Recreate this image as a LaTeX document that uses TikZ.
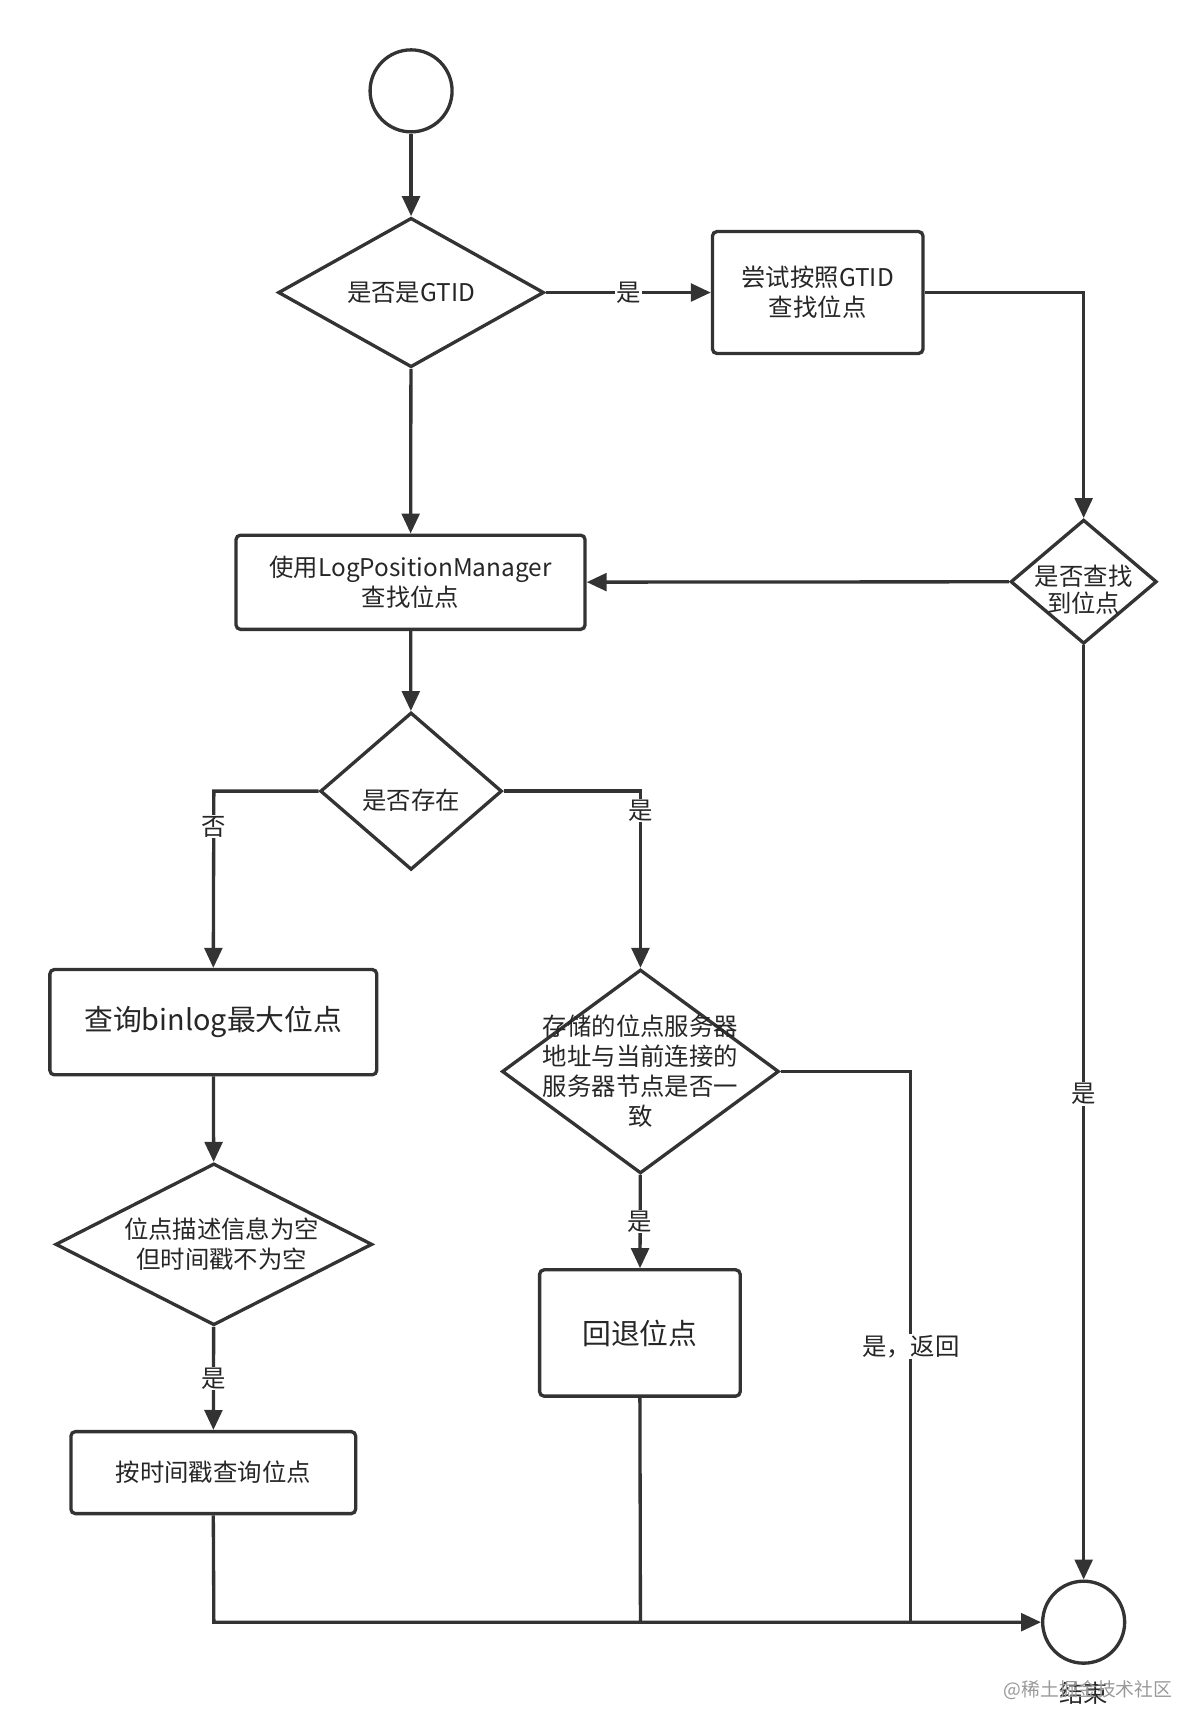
\documentclass[tikz,border=0pt]{standalone}
\usepackage{fontspec}
\setmainfont{Noto Sans CJK SC}
\usetikzlibrary{shapes.geometric,arrows.meta}
\begin{document}
\begin{tikzpicture}[x=1pt,y=-1pt,
  every node/.style={font=\fontsize{22}{27}\selectfont, text=black!85, align=center},
  ln/.style={line width=3pt, draw=black!80},
  arr/.style={ln,-{Triangle[length=18pt,width=16pt]}},
  box/.style={ln, rounded corners=4pt, inner sep=0pt, align=center},
  dia/.style={ln, diamond, inner sep=0pt, align=center},
  lab/.style={fill=white, inner sep=1pt}]
\useasboundingbox (0,0) rectangle (1080,1555);
\node[ln,circle,minimum size=74pt] (s) at (371,82) {};
\node[dia,minimum width=240pt,minimum height=112pt] (d1) at (371,264) {是否是GTID};
\node[box,minimum width=190pt,minimum height=110pt] (b1) at (738,264) {尝试按照GTID\\查找位点};
\node[dia,minimum width=132pt,minimum height=112pt] (d2) at (978,525) {};
\node (t2) at (978,532) {是否查找\\[-3pt]到位点};
\node[box,minimum width=315pt,minimum height=85pt] (b2) at (370.5,525.5) {使用LogPositionManager\\查找位点};
\node[dia,minimum width=164pt,minimum height=142pt] (d3) at (371,714) {};
\node (t3) at (371,722) {是否存在};
\node[box,minimum width=295pt,minimum height=95pt,font=\fontsize{26}{30}\selectfont] (b3) at (192.5,922.5) {查询binlog最大位点};
\node[dia,minimum width=286pt,minimum height=146pt] (d4) at (193,1123) {};
\node (t4) at (200,1123) {位点描述信息为空\\但时间戳不为空};
\node[box,minimum width=257pt,minimum height=74pt] (b4) at (192.5,1329) {按时间戳查询位点};
\node[dia,minimum width=250pt,minimum height=184pt] (d5) at (578,967) {};
\node (t5) at (578,967) {存储的位点服务器\\地址与当前连接的\\服务器节点是否一\\致};
\node[box,minimum width=181pt,minimum height=114pt,font=\fontsize{26}{30}\selectfont] (b5) at (577.5,1203) {回退位点};
\node[ln,circle,minimum size=74pt] (e) at (978,1464) {};
\node (te) at (978,1528) {结束};
\node[font=\fontsize{17}{20}\selectfont,text=black!40] (wm) at (982,1525) {@稀土掘金技术社区};
\coordinate (c1) at (978,264);
\coordinate (c2) at (193,714);
\coordinate (c3) at (578,714);
\coordinate (c4) at (822,967);
\coordinate (c5) at (822,1464);
\coordinate (c6) at (193,1464);
\coordinate (c7) at (578,1464);
\draw[arr] (s) -- (d1);
\draw[arr] (d1) -- node[lab]{是} (b1);
\draw[arr] (b1.east) -- (c1) -- (d2.north);
\draw[arr] (d1) -- (b2);
\draw[arr] (d2) -- (b2);
\draw[arr] (d2) -- node[lab,pos=0.48]{是} (e);
\draw[arr] (b2) -- (d3);
\draw[arr] (d3.west) -- (c2) -- node[lab,pos=0.2]{否} (b3.north);
\draw[arr] (d3.east) -- (c3) -- node[lab,pos=0.11]{是} (d5.north);
\draw[arr] (b3) -- (d4);
\draw[arr] (d4) -- node[lab]{是} (b4);
\draw[arr] (d5) -- node[lab]{是} (b5);
\draw[ln] (d5.east) -- (c4) -- node[lab,pos=0.5]{是，返回} (c5);
\draw[arr] (b4.south) -- (c6) -- (e.west);
\draw[ln] (b5.south) -- (c7);
\end{tikzpicture}
\end{document}
